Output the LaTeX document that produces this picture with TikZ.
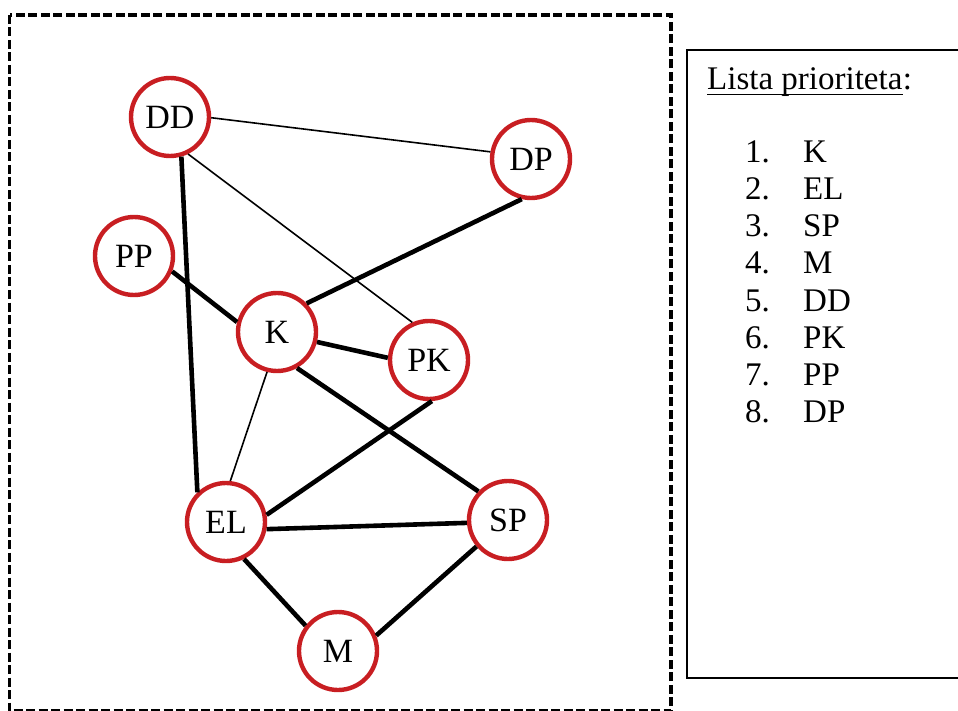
\documentclass[tikz,border=0pt]{standalone}
\usepackage{fontspec}
\setmainfont{Liberation Serif}
\definecolor{ringred}{RGB}{200,30,34}
\begin{document}
\begin{tikzpicture}[x=1pt,y=-1pt,
  vertex/.style={circle,draw=ringred,line width=4.4pt,fill=white,minimum size=78pt,inner sep=0pt,font=\fontsize{34}{38}\selectfont},
  heavy/.style={line width=4.6pt,black},
  light/.style={line width=1.6pt,black},
  listtxt/.style={anchor=base west,inner sep=0pt,font=\fontsize{33}{36}\selectfont}]
\useasboundingbox (0,0) rectangle (958,711);
\begin{scope}
\clip (0,0) rectangle (958,711);
\draw[line width=3.2pt,dash pattern=on 9pt off 3.5pt] (9.5,15) rectangle (671,711);
\draw[line width=1.8pt] (965,50) -- (687,50) -- (687,678) -- (965,678);
\end{scope}
% nodes
\node[vertex] (DD) at (170,117) {DD};
\node[vertex] (DP) at (531,159) {DP};
\node[vertex] (PP) at (134,256) {PP};
\node[vertex] (K)  at (277,332) {K};
\node[vertex] (PK) at (429,360) {PK};
\node[vertex] (EL) at (226,522) {EL};
\node[vertex] (SP) at (508,520) {SP};
\node[vertex] (M)  at (338,651) {M};
% edges
\draw[light] (DD.-1.5) -- (DP.170);
\draw[light] (DD.-64) -- (PK.114);
\draw[heavy] (DD.-74) -- (EL.134);
\draw[heavy] (DP.-103) -- (K.44);
\draw[heavy] (PP.-22) -- (K.166);
\draw[heavy] (K.-14) -- (PK.177);
\draw[light] (K.-104) -- (EL.84);
\draw[heavy] (K.-61) -- (SP.136);
\draw[heavy] (PK.-86) -- (EL.10);
\draw[heavy] (EL.-10) -- (SP.184);
\draw[heavy] (EL.-64) -- (M.142);
\draw[heavy] (M.22) -- (SP.220);
% list
\node[listtxt] (title) at (707,90) {Lista prioriteta};
\node[listtxt,anchor=base west] (colon) at (title.base east) {:};
\draw[line width=1.6pt] ([yshift=-4.5pt]title.base west) -- ([yshift=-4.5pt]title.base east);
\foreach \n/\t [count=\i from 0] in {1/K,2/EL,3/SP,4/M,5/DD,6/PK,7/PP,8/DP}{
  \node[listtxt] (num\n) at (745,163+37*\i) {\n.};
  \node[listtxt] (item\n) at (803,163+37*\i) {\t};
}
\end{tikzpicture}
\end{document}
